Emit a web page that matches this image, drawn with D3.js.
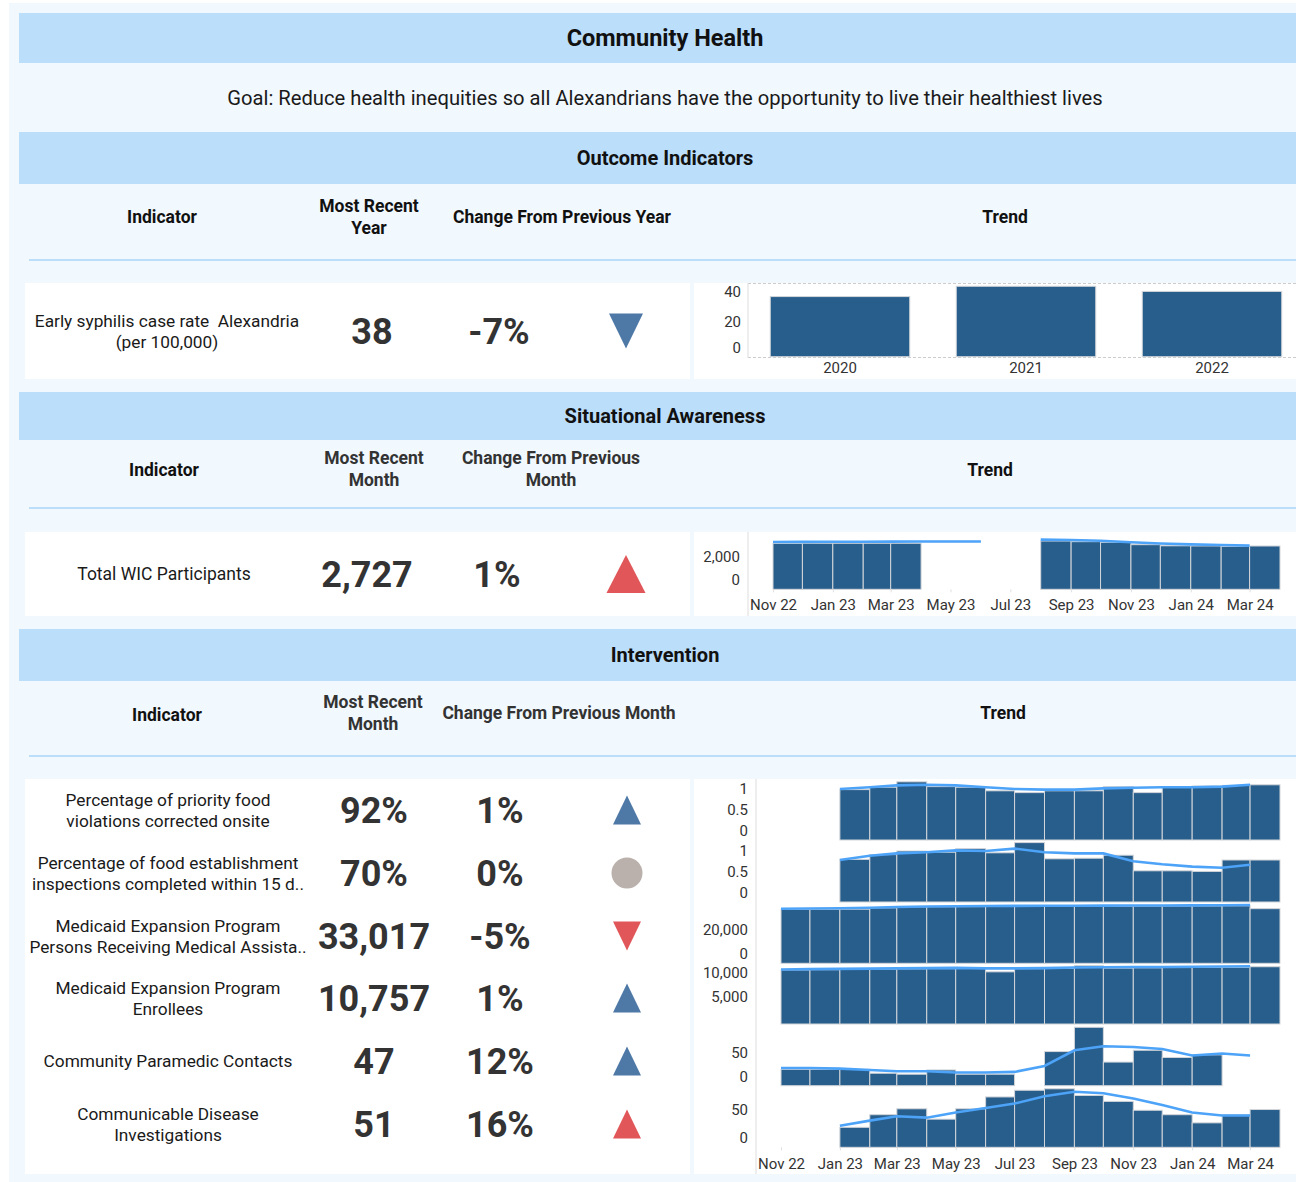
<!DOCTYPE html>
<html>
<head>
<meta charset="utf-8">
<script src="https://cdn.jsdelivr.net/npm/d3@7"></script>
<style>
body { margin: 0; background: #fff; }
svg text { font-family: Roboto, "Noto Sans", sans-serif; white-space: pre; }
</style>
</head>
<body>
<div id="dash"></div>
<script>
// ---- data ----
var syphYears = ["2020", "2021", "2022"];
var syphRate = [35, 41, 38];

var months = ["2022-11", "2022-12", "2023-01", "2023-02", "2023-03", "2023-04", "2023-05", "2023-06",
  "2023-07", "2023-08", "2023-09", "2023-10", "2023-11", "2023-12", "2024-01", "2024-02", "2024-03"];
var tickMonths = ["2022-11", "2023-01", "2023-03", "2023-05", "2023-07", "2023-09", "2023-11", "2024-01", "2024-03"];

var wicBars = [2890, 2900, 2900, 2900, 2900, null, null, null, null, 3040, 3000, 2960, 2810, 2740, 2730, 2700, 2727];
var wicLine = [2980, 2985, 2990, 2995, 3000, 3005, 3008, 3010, null, 3130, 3100, 3060, 2960, 2880, 2830, 2790, 2750];

var intvNames = [
  ["Percentage of priority food", "violations corrected onsite"],
  ["Percentage of food establishment", "inspections completed within 15 d.."],
  ["Medicaid Expansion Program", "Persons Receiving Medical Assista.."],
  ["Medicaid Expansion Program", "Enrollees"],
  ["Community Paramedic Contacts"],
  ["Communicable Disease", "Investigations"]
];
var intvLatest = ["92%", "70%", "33,017", "10,757", "47", "51"];
var intvChange = ["1%", "0%", "-5%", "1%", "12%", "16%"];
var intvDirection = ["up", "flat", "down", "up", "up", "up"];
var intvStatus = ["good", "neutral", "bad", "good", "good", "bad"];

var foodViolBars = [null, null, 0.84, 0.88, 0.97, 0.89, 0.88, 0.82, 0.79, 0.82, 0.82, 0.89, 0.79, 0.88, 0.90, 0.91, 0.92];
var foodViolLine = [null, null, 0.85, 0.88, 0.91, 0.92, 0.91, 0.88, 0.85, 0.84, 0.84, 0.86, 0.87, 0.88, 0.88, 0.89, 0.92];
var foodInspBars = [null, null, 0.71, 0.79, 0.85, 0.83, 0.89, 0.82, 0.99, 0.72, 0.73, 0.78, 0.52, 0.52, 0.51, 0.70, 0.70];
var foodInspLine = [null, null, 0.70, 0.77, 0.81, 0.83, 0.86, 0.85, 0.89, 0.83, 0.81, 0.81, 0.68, 0.63, 0.59, 0.57, 0.62];
var medAssistBars = [32600, 32650, 32700, 33500, 34100, 34200, 34250, 34300, 34350, 34400, 34450, 34500, 34550, 34600, 34650, 34755, 33017];
var medAssistLine = [33000, 33150, 33300, 33600, 34000, 34300, 34500, 34600, 34700, 34750, 34800, 34850, 34900, 34950, 35000, 35100, 35200];
var enrolleeBars = [10150, 10200, 10250, 10300, 10350, 10400, 10450, 9800, 10400, 10450, 10950, 10500, 10550, 10600, 10620, 10650, 10757];
var enrolleeLine = [10250, 10300, 10350, 10400, 10450, 10500, 10550, 10450, 10450, 10500, 10600, 10650, 10700, 10720, 10750, 10800, 10850];
var paramedicBars = [25, 25, 25, 19, 17.5, 24, 17.5, 17.5, null, 52, 89, 36, 54, 43, 47, null, null];
var paramedicLine = [27, 27, 26, 24, 22, 22, 20, 20, 21, 30, 54, 60, 59, 56, 46, 49, 46];
var diseaseBars = [null, null, 27, 44, 52, 38, 52, 68, 77, 79, 70, 62, 50, 44, 33, 44, 51];
var diseaseLine = [null, null, 29, 36, 42, 40, 47, 53, 59, 69, 75, 73, 66, 57, 47, 43, 43];

var intvSeries = [
  { bars: foodViolBars, line: foodViolLine, max: 1.0, ticks: [0, 0.5, 1] },
  { bars: foodInspBars, line: foodInspLine, max: 1.0, ticks: [0, 0.5, 1] },
  { bars: medAssistBars, line: medAssistLine, max: 36250, ticks: [0, 20000] },
  { bars: enrolleeBars, line: enrolleeLine, max: 11270, ticks: [5000, 10000] },
  { bars: paramedicBars, line: paramedicLine, max: 91.4, ticks: [0, 50] },
  { bars: diseaseBars, line: diseaseLine, max: 81, ticks: [0, 50] }
];

// ---- style ----
var bandColor = "#bbdefb";
var panelBg = "#f1f8fe";
var barColor = "#285e8c";
var lineColor = "#4da3f7";
var statusColor = { good: "#4e79a7", bad: "#e15759", neutral: "#bab0ac" };
var headSize = 17.5;
var tickSize = 15;

var svg = d3.select("#dash").append("svg")
  .attr("width", 1296)
  .attr("height", 1182);

svg.append("rect").attr("x", 9).attr("y", 3).attr("width", 1287).attr("height", 1179).attr("fill", panelBg);

function label(g, x, y, lines, size, weight, color, anchor) {
  var lh = size * 1.22;
  var t = g.append("text")
    .attr("text-anchor", anchor || "middle")
    .attr("font-size", size)
    .attr("font-weight", weight)
    .attr("fill", color);
  lines.forEach(function(s, i) {
    t.append("tspan")
      .attr("x", x)
      .attr("y", y + (i - (lines.length - 1) / 2) * lh)
      .attr("dy", "0.35em")
      .text(s);
  });
  return t;
}

function band(y, h, text) {
  svg.append("rect").attr("x", 19).attr("y", y).attr("width", 1277).attr("height", h).attr("fill", bandColor);
  if (text) label(svg, 665, y + h / 2, [text], 20, "bold", "#111");
}

function separator(y) {
  svg.append("line").attr("x1", 29).attr("x2", 1296).attr("y1", y).attr("y2", y)
    .attr("stroke", bandColor).attr("stroke-width", 2);
}

function whitePanels(y, h) {
  svg.append("rect").attr("x", 25).attr("y", y).attr("width", 665).attr("height", h).attr("fill", "#fff");
  svg.append("rect").attr("x", 694).attr("y", y).attr("width", 602).attr("height", h).attr("fill", "#fff");
}

function icon(cx, cy, dir, status, w, h) {
  var c = statusColor[status];
  if (dir === "flat") {
    svg.append("circle").attr("cx", cx).attr("cy", cy).attr("r", w / 2 + 1.5).attr("fill", c);
    return;
  }
  var p = d3.path();
  if (dir === "up") {
    p.moveTo(cx, cy - h / 2); p.lineTo(cx + w / 2, cy + h / 2); p.lineTo(cx - w / 2, cy + h / 2);
  } else {
    p.moveTo(cx - w / 2, cy - h / 2); p.lineTo(cx + w / 2, cy - h / 2); p.lineTo(cx, cy + h / 2);
  }
  p.closePath();
  svg.append("path").attr("d", p.toString()).attr("fill", c);
}

function yAxis(g, y, axisX, ticks, top, bottom, pad) {
  var ax = g.append("g")
    .attr("transform", "translate(" + axisX + ",0)")
    .call(d3.axisLeft(y).tickValues(ticks).tickSize(0).tickPadding(pad).tickFormat(d3.format(",")));
  ax.select(".domain").remove();
  ax.selectAll(".tick")
    .attr("transform", function(d) {
      var ty = Math.max(top + 9.5, Math.min(bottom - 9, y(d)));
      return "translate(0," + ty + ")";
    });
  ax.selectAll("text").attr("font-size", tickSize).attr("fill", "#333").attr("font-family", "Roboto, sans-serif");
}

var parseMonth = d3.timeParse("%Y-%m");
var monthDates = months.map(parseMonth);
var tickDates = tickMonths.map(parseMonth);

function drawTrend(g, xs, bottom, top, maxV, bars, line, ticks, axisX) {
  var y = d3.scaleLinear().domain([0, maxV]).range([bottom, top]);
  var barData = bars.map(function(v, i) { return { v: v, i: i }; }).filter(function(d) { return d.v != null; });
  g.selectAll(null)
    .data(barData)
    .enter()
    .append("rect")
    .attr("x", function(d) { return xs(monthDates[d.i]); })
    .attr("width", function(d) { return xs(d3.timeMonth.offset(monthDates[d.i], 1)) - xs(monthDates[d.i]); })
    .attr("y", function(d) { return y(d.v); })
    .attr("height", function(d) { return bottom - y(d.v); })
    .attr("fill", barColor)
    .attr("stroke", "#d3d6da")
    .attr("stroke-width", 1);
  var lineGen = d3.line()
    .defined(function(d) { return d != null; })
    .x(function(d, i) { return xs(monthDates[i]); })
    .y(function(d) { return y(d); });
  g.append("path")
    .attr("d", lineGen(line))
    .attr("fill", "none")
    .attr("stroke", lineColor)
    .attr("stroke-width", 2.6);
  yAxis(g, y, axisX, ticks, top, bottom, 8);
}

function xTimeAxis(g, xs, yPos, labelOffset) {
  var ax = g.append("g")
    .attr("transform", "translate(0," + yPos + ")")
    .call(d3.axisBottom(xs).tickValues(tickDates).tickSize(3).tickFormat(d3.timeFormat("%b %y")));
  ax.select(".domain").remove();
  ax.selectAll(".tick line").attr("stroke", "#e0e0e0");
  ax.selectAll("text").attr("y", labelOffset).attr("dy", "0.35em")
    .attr("font-size", tickSize).attr("fill", "#333").attr("font-family", "Roboto, sans-serif");
}

// ---- title ----
band(13, 50, null);
label(svg, 665, 38, ["Community Health"], 23.5, "bold", "#111");
label(svg, 665, 98, ["Goal: Reduce health inequities so all Alexandrians have the opportunity to live their healthiest lives"], 20.2, "normal", "#1a1a1a");

// ---- outcome indicators ----
band(132, 52, "Outcome Indicators");
label(svg, 162, 217, ["Indicator"], headSize, "bold", "#111");
label(svg, 369, 217, ["Most Recent", "Year"], headSize, "bold", "#111");
label(svg, 562, 217, ["Change From Previous Year"], headSize, "bold", "#111");
label(svg, 1005, 217, ["Trend"], headSize, "bold", "#111");
separator(260);
whitePanels(283, 96);

label(svg, 167, 331, ["Early syphilis case rate  Alexandria", "(per 100,000)"], 17.3, "normal", "#1a1a1a");
label(svg, 372, 331, ["38"], 36, "bold", "#333");
label(svg, 499, 331, ["-7%"], 36, "bold", "#333");
icon(626, 331, "down", "good", 34, 35);

var syph = svg.append("g");
var xBand = d3.scaleBand().domain(syphYears).range([747, 1305]).paddingInner(0.25).paddingOuter(0.125);
var ySyph = d3.scaleLinear().domain([0, 42.9]).range([356.7, 283]);
syph.append("line").attr("x1", 748).attr("x2", 1296).attr("y1", 283.5).attr("y2", 283.5)
  .attr("stroke", "#ccc").attr("stroke-dasharray", "3,2");
syph.append("line").attr("x1", 748).attr("x2", 1296).attr("y1", 357.5).attr("y2", 357.5)
  .attr("stroke", "#ccc").attr("stroke-dasharray", "3,2");
syph.append("line").attr("x1", 748).attr("x2", 748).attr("y1", 283).attr("y2", 358).attr("stroke", "#ddd");
syph.selectAll(null)
  .data(syphRate)
  .enter()
  .append("rect")
  .attr("x", function(d, i) { return xBand(syphYears[i]); })
  .attr("width", xBand.bandwidth())
  .attr("y", function(d) { return ySyph(d); })
  .attr("height", function(d) { return 356.7 - ySyph(d); })
  .attr("fill", barColor)
  .attr("stroke", "#d3d6da");
yAxis(syph, ySyph, 748, [0, 20, 40], 283, 356.7, 7);
var sx = syph.append("g").attr("transform", "translate(0,357)")
  .call(d3.axisBottom(xBand).tickSize(0));
sx.select(".domain").remove();
sx.selectAll("text").attr("y", 11).attr("dy", "0.35em")
  .attr("font-size", tickSize).attr("fill", "#333").attr("font-family", "Roboto, sans-serif");

// ---- situational awareness ----
band(392, 48, "Situational Awareness");
label(svg, 164, 470, ["Indicator"], headSize, "bold", "#111");
label(svg, 374, 469, ["Most Recent", "Month"], headSize, "bold", "#333");
label(svg, 551, 469, ["Change From Previous", "Month"], headSize, "bold", "#333");
label(svg, 990, 470, ["Trend"], headSize, "bold", "#111");
separator(508);
whitePanels(532, 84);

label(svg, 164, 574, ["Total WIC Participants"], 17.5, "normal", "#1a1a1a");
label(svg, 367, 574, ["2,727"], 36, "bold", "#333");
label(svg, 497, 574, ["1%"], 36, "bold", "#333");
icon(626, 574, "up", "bad", 39, 38);

var wic = svg.append("g");
var xWic = d3.scaleTime().domain([monthDates[0], d3.timeMonth.offset(monthDates[monthDates.length - 1], 1)]).range([773, 1280]);
wic.append("line").attr("x1", 748).attr("x2", 748).attr("y1", 532).attr("y2", 616).attr("stroke", "#ddd");
drawTrend(wic, xWic, 589.3, 535.3, 3400, wicBars, wicLine, [0, 2000], 748);
xTimeAxis(wic, xWic, 589.3, 15);

// ---- intervention ----
band(629, 52, "Intervention");
label(svg, 167, 715, ["Indicator"], headSize, "bold", "#111");
label(svg, 373, 713, ["Most Recent", "Month"], headSize, "bold", "#333");
label(svg, 559, 713, ["Change From Previous Month"], headSize, "bold", "#333");
label(svg, 1003, 713, ["Trend"], headSize, "bold", "#111");
separator(756);
whitePanels(779, 395);

var rowY = [810, 873, 936, 998, 1061, 1124];
var rowBottom = [840, 902, 963.3, 1024, 1085.7, 1147.3];

intvNames.forEach(function(name, i) {
  label(svg, 168, rowY[i], name, 17.3, "normal", "#1a1a1a");
  label(svg, 374, rowY[i], [intvLatest[i]], 36, "bold", "#333");
  label(svg, 500, rowY[i], [intvChange[i]], 36, "bold", "#333");
  icon(627, rowY[i], intvDirection[i], intvStatus[i], 28, 29);
});

var intv = svg.append("g");
var xIntv = d3.scaleTime().domain([monthDates[0], d3.timeMonth.offset(monthDates[monthDates.length - 1], 1)]).range([781, 1280]);
intv.append("line").attr("x1", 756).attr("x2", 756).attr("y1", 779).attr("y2", 1174).attr("stroke", "#ddd");
intvSeries.forEach(function(s, i) {
  var bottom = rowBottom[i];
  drawTrend(intv, xIntv, bottom, bottom - 60, s.max, s.bars, s.line, s.ticks, 756);
});
xTimeAxis(intv, xIntv, 1147.3, 16);
</script>
</body>
</html>
